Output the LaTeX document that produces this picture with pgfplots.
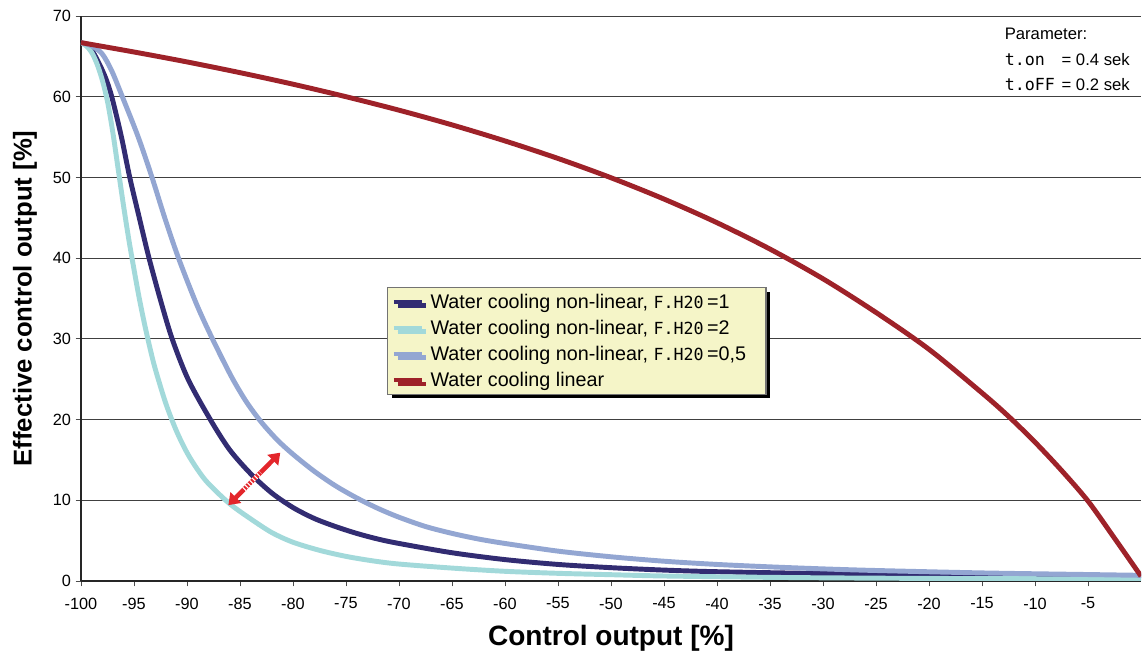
\documentclass[border=0pt]{standalone}
\usepackage{fontspec}
\setmainfont{Liberation Sans}
\newfontfamily\segfont{DejaVu Sans Mono}
\usepackage{pgfplots}
\pgfplotsset{compat=1.18}
\usetikzlibrary{shadows,arrows.meta,calc}

\definecolor{cDark}{RGB}{50,44,114}
\definecolor{cCyan}{RGB}{162,217,218}
\definecolor{cLight}{RGB}{147,166,210}
\definecolor{cRed}{RGB}{158,34,41}
\definecolor{cArrow}{RGB}{227,38,43}
\definecolor{cLeg}{RGB}{245,245,200}

\newcommand{\seg}[1]{{\segfont\fontsize{12.5}{14}\selectfont #1}}

\begin{document}
\begin{tikzpicture}
\begin{axis}[name=ax, scale only axis, width=795pt, height=423.75pt,
  xmin=-100, xmax=0, ymin=0, ymax=70,
  axis x line*=bottom, axis y line*=left,
  axis line style={-, black!85, line width=0.8pt},
  xtick={-100,-95,-90,-85,-80,-75,-70,-65,-60,-55,-50,-45,-40,-35,-30,-25,-20,-15,-10,-5},
  xticklabels={-100,-95,-90,-85,-80,-75,-70,-65,-60,-55,-50,-45,-40,-35,-30,-25,-20,-15,-10,-5},
  ytick={0,10,20,30,40,50,60,70},
  yticklabels={0,10,20,30,40,50,60,70},
  ymajorgrids, grid style={black!75, line width=0.7pt},
  tick align=outside, major tick length=4pt,
  tick style={black!70, line width=0.6pt},
  ticklabel style={font=\fontsize{12.2}{14}\selectfont},
  xticklabel style={yshift=-5pt},
  /pgf/number format/assume math mode=true,
  xlabel={Control output [\%]},
  ylabel={Effective control output [\%]},
  xlabel style={at={(axis description cs:0.5,0)}, anchor=base, yshift=-48.75pt,
    font=\fontsize{21}{24}\selectfont\bfseries},
  ylabel style={at={(axis description cs:0,0.5)}, anchor=base, yshift=37pt,
    font=\fontsize{19.3}{22}\selectfont\bfseries},
  legend style={at={(axis cs:-71.1,36.4)}, anchor=north west,
    fill=cLeg, draw=black!55, line width=0.8pt,
    font=\fontsize{14.8}{18}\selectfont, cells={anchor=west},
    inner xsep=3pt, inner ysep=2.5pt, row sep=3.3pt, column sep=3pt,
    drop shadow={shadow xshift=3pt, shadow yshift=-3pt, fill=black, opacity=1}},
  legend image code/.code={\draw[#1, line width=3pt] (0pt,0pt) -- (21pt,0pt);},
]
\addplot[cDark, line width=3.7pt, smooth] coordinates {
(-100,66.7) (-99.5,66.4) (-99,65.8) (-98.4,64.4) (-97.7,62.4) (-97.1,60) (-96.2,55.1) (-95.4,50)
(-94.5,45) (-93.6,40.1) (-92.5,34.8) (-91.4,30) (-89.9,25) (-87.8,20) (-86,16.3) (-84,13.3)
(-82,10.9) (-80,9.1) (-78,7.75) (-76,6.75) (-74,5.9) (-72,5.2) (-70,4.65) (-65,3.5) (-60,2.65)
(-55,2.05) (-50,1.65) (-45,1.35) (-40,1.15) (-30,0.92) (-20,0.78) (-10,0.68) (0,0.6)};
\addlegendentry{Water cooling non-linear, \seg{F.H20}\,=1}
\addplot[cCyan, line width=3.7pt, smooth] coordinates {
(-100,66.7) (-99.5,66.3) (-99,65.5) (-98.5,64.1) (-98,62.1) (-97.5,59.4) (-97,55.6) (-96.5,51.1)
(-96,46.6) (-95.5,42.4) (-95,38.6) (-94.5,35.0) (-94,31.8) (-93.5,28.9) (-93,26.3) (-92,22.0)
(-91,18.6) (-90,15.9) (-89,13.8) (-88,12.1) (-86,9.6) (-84,7.7) (-82,6.0) (-80,4.8) (-77.5,3.8)
(-75,3.05) (-72.5,2.5) (-70,2.1) (-65,1.6) (-60,1.2) (-55,0.95) (-50,0.78) (-45,0.62)
(-35,0.45) (-25,0.35) (-15,0.3) (0,0.25)};
\addlegendentry{Water cooling non-linear, \seg{F.H20}\,=2}
\addplot[cLight, line width=3.7pt, smooth] coordinates {
(-100,66.7) (-99,66.3) (-98,65.3) (-97.1,63.2) (-96.1,60) (-94.6,55) (-93.3,50) (-92.1,45)
(-90.8,40) (-89.1,34.3) (-87.6,30) (-85.8,25.3) (-84.4,22.2) (-83,19.7) (-81.5,17.5) (-80,15.7)
(-78,13.6) (-76,11.8) (-74,10.3) (-72,9.0) (-70,7.9) (-67.5,6.75) (-65,5.9) (-62.5,5.2)
(-60,4.65) (-55,3.7) (-50,3.0) (-45,2.45) (-40,2.05) (-35,1.75) (-30,1.5) (-25,1.3)
(-15,1.0) (-5,0.8) (0,0.7)};
\addlegendentry{Water cooling non-linear, \seg{F.H20}\,=0,5\makebox[10pt]{}}
\addplot[cRed, line width=3.7pt, smooth] coordinates {
(-100,66.7) (-95,65.54) (-90,64.31) (-85,62.98) (-80,61.55) (-75,60.0) (-70,58.33) (-65,56.51)
(-60,54.52) (-55,52.35) (-50,49.96) (-45,47.32) (-40,44.39) (-35,41.12) (-30,37.44)
(-25,33.27) (-20,28.7) (-15,23.3) (-12.5,20.4) (-10,17.2) (-7.5,13.7) (-5,9.9) (-2.5,5.3) (0,0.6)};
\addlegendentry{Water cooling linear}

\draw[cArrow, line width=3.4pt, {Triangle[length=8pt,width=11pt]}-{Triangle[length=8pt,width=11pt]}]
  (axis cs:-86.1,9.4) -- (axis cs:-81.2,15.9);
\draw[white, line width=3.6pt, dash pattern=on 0.8pt off 1.7pt]
  ($(axis cs:-86.1,9.4)!0.3!(axis cs:-81.2,15.9)$) -- ($(axis cs:-86.1,9.4)!0.62!(axis cs:-81.2,15.9)$);
\end{axis}
\node[anchor=north east, inner sep=0pt, font=\fontsize{12.5}{19}\selectfont, align=left]
  at ($(ax.north east)+(-8.25pt,-4.5pt)$) {%
  \begin{tabular}{@{}l@{\hspace{5pt}}l@{}}
  \multicolumn{2}{@{}l@{}}{Parameter:}\\
  \seg{t.on} & = 0.4 sek\\
  \seg{t.oFF} & = 0.2 sek
  \end{tabular}};
\pgfresetboundingbox
\path ($(ax.south west)+(-60.75pt,-54.75pt)$) rectangle ($(ax.north east)+(0.75pt,12pt)$);
\end{tikzpicture}
\end{document}
